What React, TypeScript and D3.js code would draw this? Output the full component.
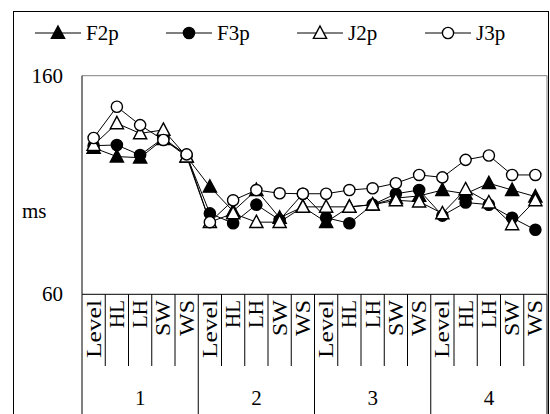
import * as d3 from 'd3'

const groups = ['1', '2', '3', '4']
const conditions = ['Level', 'HL', 'LH', 'SW', 'WS']
const seriesNames = ['F2p', 'F3p', 'J2p', 'J3p']

const f2p = [127, 123, 122.5, 131, 123, 109.2, 98, 107.7, 95, 100, 93, 100, 101, 104, 105, 107.7, 106, 110.8, 107.7, 104.7]
const f3p = [128, 128.3, 123.7, 131.5, 123.5, 97, 92.5, 101, 94, 106, 95, 92.5, 101, 106, 107.7, 96, 102, 101, 95, 89.5]
const j2p = [128.3, 138.2, 133.6, 135.2, 123, 93, 97, 93, 93, 100, 100, 100, 101, 103, 102.4, 97, 108, 102, 92, 103]
const j3p = [131.5, 145.8, 137.4, 130.6, 124, 93, 103, 107.7, 106.2, 106, 106, 107.7, 108.5, 110.8, 114.6, 113.5, 121.5, 123.5, 114.6, 114.6]

const yTicks = [60, 160]

type Marker = { shape: 'tri' | 'circ'; filled: boolean }
const markers: Marker[] = [
  { shape: 'tri', filled: true },
  { shape: 'circ', filled: true },
  { shape: 'tri', filled: false },
  { shape: 'circ', filled: false },
]

const W = 550
const H = 414
const margin = { left: 82, right: 547, top: 75.7, bottom: 294.3 }
const font = "'Liberation Serif', serif"
// rotated label lengths as they appear in the picture
const labelLen: Record<string, number> = { Level: 58, HL: 28, LH: 28, SW: 36, WS: 36 }

function MarkerShape({ m, x, y }: { m: Marker; x: number; y: number }) {
  const fill = m.filled ? '#000' : '#fff'
  if (m.shape === 'circ') return <circle cx={x} cy={y} r={5.6} fill={fill} stroke="#000" strokeWidth={1.4} />
  const p = `M${x},${y - 7}L${x + 6.6},${y + 5.4}L${x - 6.6},${y + 5.4}Z`
  return <path d={p} fill={fill} stroke="#000" strokeWidth={1.4} strokeLinejoin="miter" />
}

export default function App() {
  const cats = groups.flatMap((g) => conditions.map((c) => `${g}-${c}`))
  const x = d3.scaleBand().domain(cats).range([margin.left, margin.right])
  const y = d3.scaleLinear().domain([60, 160]).range([margin.bottom, margin.top])
  const data = [f2p, f3p, j2p, j3p]
  const line = d3
    .line<number>()
    .x((_, i) => x(cats[i])! + x.bandwidth() / 2)
    .y((d) => y(d))

  const groupW = x.bandwidth() * conditions.length
  const legendX = [35, 166, 297, 425]
  const ts = { fontFamily: font }

  return (
    <svg width={W} height={H} style={{ position: 'absolute', left: 0, top: 0, background: '#fff' }}>
      <rect x={13.5} y={11.5} width={535} height={420} fill="#fff" stroke="#000" strokeWidth={1} />

      {/* legend */}
      {seriesNames.map((s, i) => (
        <g key={s}>
          <line x1={legendX[i]} x2={legendX[i] + 46} y1={33} y2={33} stroke="#000" strokeWidth={1} />
          <MarkerShape m={markers[i]} x={legendX[i] + 23} y={33} />
          <text x={legendX[i] + 51} y={40} fontSize={21} style={ts}>
            {s}
          </text>
        </g>
      ))}

      {/* plot frame */}
      <line x1={margin.left} x2={margin.right} y1={margin.top} y2={margin.top} stroke="#808080" />
      <line x1={margin.right} x2={margin.right} y1={margin.top} y2={margin.bottom} stroke="#808080" />
      <line x1={margin.left} x2={margin.left} y1={margin.top} y2={margin.bottom} stroke="#000" />
      <line x1={margin.left} x2={margin.right} y1={margin.bottom} y2={margin.bottom} stroke="#000" />

      {/* y labels */}
      {yTicks.map((t) => (
        <text key={t} x={63} y={y(t) + 7} fontSize={21} textAnchor="end" style={ts}>
          {t}
        </text>
      ))}
      <text x={22} y={218} fontSize={21} style={ts}>
        ms
      </text>

      {/* category axis */}
      {cats.map((c, i) => {
        const x0 = x(c)!
        const isGroup = i % conditions.length === 0
        const lab = conditions[i % conditions.length]
        return (
          <g key={c}>
            <line x1={x0} x2={x0} y1={margin.bottom} y2={isGroup ? H : 366} stroke="#000" />
            <text
              transform={`translate(${x0 + x.bandwidth() / 2 + 7},${300}) rotate(-90)`}
              fontSize={21}
              textAnchor="end"
              textLength={labelLen[lab]}
              lengthAdjust="spacingAndGlyphs"
              style={ts}
            >
              {lab}
            </text>
          </g>
        )
      })}
      <line x1={margin.right} x2={margin.right} y1={margin.bottom} y2={H} stroke="#000" />
      {groups.map((g, i) => (
        <text key={g} x={margin.left + groupW * (i + 0.5)} y={405} fontSize={21} textAnchor="middle" style={ts}>
          {g}
        </text>
      ))}

      {/* series */}
      {data.map((d, si) => (
        <path key={si} d={line(d)!} fill="none" stroke="#000" strokeWidth={1} />
      ))}
      {data.map((d, si) =>
        d.map((v, i) => <MarkerShape key={`${si}-${i}`} m={markers[si]} x={x(cats[i])! + x.bandwidth() / 2} y={y(v)} />)
      )}
    </svg>
  )
}
